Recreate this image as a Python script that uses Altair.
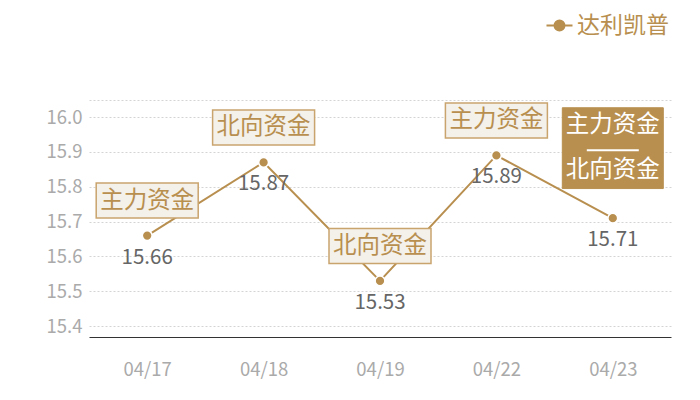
import altair as alt
import pandas as pd

# ---- data ----
dates = ["04/17", "04/18", "04/19", "04/22", "04/23"]
values = [15.66, 15.87, 15.53, 15.89, 15.71]
note_main = ["主力资金", "北向资金", "北向资金", "主力资金", "主力资金"]
note_second = ["", "", "", "", "北向资金"]
series_name = "达利凯普"
y_ticks = [15.4, 15.5, 15.6, 15.7, 15.8, 15.9, 16.0]
y_min, y_max = 15.369, 16.049

df = pd.DataFrame({
    "date": dates,
    "value": values,
    "note": note_main,
    "note2": note_second,
    "series": [series_name] * len(dates),
})
df["combined"] = df["note2"] != ""

GOLD = "#b88f4f"
FONT = "Noto Sans CJK SC"

x_enc = alt.X("date:N", sort=dates, title=None,
              axis=alt.Axis(labelAngle=0, labelColor="#aaaaaa", labelFontSize=18.5,
                            labelFont=FONT, ticks=False, domainColor="#333333",
                            domainWidth=1, labelPadding=23, grid=False))
y_enc = alt.Y("value:Q", title=None,
              scale=alt.Scale(domain=[y_min, y_max], nice=False, zero=False),
              axis=alt.Axis(values=y_ticks + [y_max], labelColor="#aaaaaa", labelFontSize=18.5,
                            labelFont=FONT, ticks=False, domain=False, labelPadding=7,
                            gridColor="#d4d4d4", gridDash=[2, 2], gridWidth=1,
                            labelExpr="datum.value > 16.01 ? '' : datum.label"))

base = alt.Chart(df).encode(x=x_enc, y=y_enc)

legend_path = ("M-1.3,0H-0.5M0.5,0H1.3M-0.5,0A0.5,0.5,0,1,1,0.5,0"
               "A0.5,0.5,0,1,1,-0.5,0Z")

line = base.mark_line(strokeWidth=2).encode(
    color=alt.Color("series:N", scale=alt.Scale(range=[GOLD]),
                    legend=alt.Legend(title=None, orient="none", legendX=459, legendY=-86,
                                      symbolType=legend_path, symbolSize=400,
                                      symbolStrokeWidth=2, symbolFillColor=GOLD,
                                      symbolStrokeColor=GOLD, labelFontSize=23,
                                      labelFont=FONT, labelColor=GOLD, labelOffset=6,
                                      labelLimit=200))
)

box_light = base.transform_filter("!datum.combined").mark_point(
    shape="M-1,-0.343H1V0.343H-1Z", size=102 * 102, filled=True, fill="#f4f0ea",
    stroke="#c9a46d", strokeWidth=1.5, opacity=1, yOffset=-35)

text_light = base.transform_filter("!datum.combined").mark_text(
    dy=-35, fontSize=23.5, font=FONT, color=GOLD, baseline="middle").encode(text="note:N")

box_dark = base.transform_filter("datum.combined").mark_point(
    shape="M-1,-0.8H1V0.8H-1Z", size=101 * 101, filled=True, fill=GOLD,
    stroke=GOLD, strokeWidth=1, opacity=1, yOffset=-70)

text_dark1 = base.transform_filter("datum.combined").mark_text(
    dy=-93, fontSize=23.5, font=FONT, color="white", baseline="middle").encode(text="note:N")
sep_dark = base.transform_filter("datum.combined").mark_point(
    shape="M-1,0H1", size=52 * 52, filled=False, stroke="white", strokeWidth=2,
    opacity=1, yOffset=-68)
text_dark2 = base.transform_filter("datum.combined").mark_text(
    dy=-48, fontSize=23.5, font=FONT, color="white", baseline="middle").encode(text="note2:N")

points = base.mark_point(filled=True, size=95, fill=GOLD, stroke="white",
                         strokeWidth=1.5, opacity=1)

value_labels = base.mark_text(dy=22, fontSize=20.5, font=FONT, color="#666666",
                              baseline="middle").encode(text=alt.Text("value:Q", format=".2f"))

chart = alt.layer(line, box_light, text_light, box_dark, text_dark1, sep_dark,
                  text_dark2, points, value_labels).properties(
    width=582, height=237,
    autosize=alt.AutoSizeParams(type="none"),
    padding={"left": 81, "top": 92, "right": 21, "bottom": 52},
).configure_view(stroke=None)

chart.save("out.html", embed_options={"renderer": "svg", "actions": False})
